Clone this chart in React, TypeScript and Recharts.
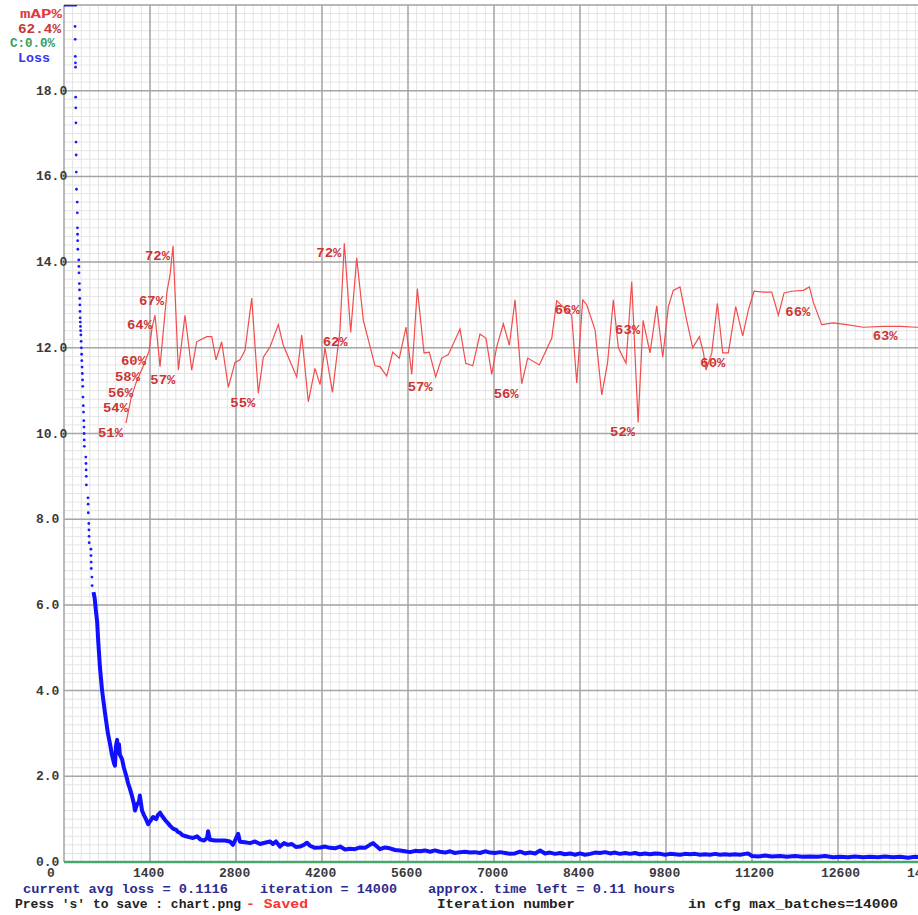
import React from 'react';
import { ComposedChart, Line, Scatter, XAxis, YAxis, CartesianGrid, ReferenceLine, LabelList } from 'recharts';

const xTicks = [0, 1400, 2800, 4200, 5600, 7000, 8400, 9800, 11200, 12600, 14000];
const yTicks = [0, 2, 4, 6, 8, 10, 12, 14, 16, 18];

// loss above the top of the chart (clipped at 20)
const lossClipIter = [0, 210];
const lossClipVal = [20, 20];

// sparse early loss dots
const lossDotIter = [180, 182, 184, 186, 188, 190, 192, 194, 196, 198, 200, 203, 215, 217, 219, 221, 223, 225, 240, 242, 244, 250, 252, 256, 258, 260, 263, 265, 268, 271, 275, 279, 283, 287, 290, 294, 298, 302, 305, 309, 314, 318, 322, 325, 327, 329, 331, 355, 358, 360, 362, 364, 390, 393, 395, 404, 406, 408, 410, 438, 440, 442, 444, 455, 458];
const lossDotVal = [19.5, 19.2, 18.8, 18.65, 18.55, 17.85, 17.6, 17.25, 16.8, 16.5, 16.1, 15.7, 15.4, 15.15, 14.8, 14.65, 14.5, 14.3, 14.05, 13.9, 13.75, 13.5, 13.35, 13.15, 13.0, 12.85, 12.7, 12.6, 12.5, 12.4, 12.3, 12.15, 12.0, 11.85, 11.7, 11.55, 11.4, 11.25, 11.1, 10.85, 10.65, 10.5, 10.3, 10.15, 10.0, 9.85, 9.7, 9.45, 9.3, 9.15, 9.0, 8.8, 8.5, 8.35, 8.15, 7.9, 7.75, 7.6, 7.45, 7.3, 7.15, 7.0, 6.85, 6.65, 6.45];

// continuous loss line
const lossIter = [480, 500, 520, 540, 555, 585, 620, 665, 715, 750, 780, 815, 830, 845, 865, 880, 895, 910, 945, 975, 995, 1025, 1040, 1075, 1105, 1140, 1155, 1190, 1220, 1235, 1255, 1270, 1300, 1335, 1370, 1400, 1450, 1500, 1530, 1565, 1595, 1645, 1695, 1725, 1775, 1825, 1855, 1890, 1935, 1985, 2035, 2100, 2165, 2215, 2280, 2330, 2345, 2375, 2460, 2540, 2620, 2700, 2750, 2800, 2835, 2865, 2945, 3030, 3110, 3190, 3270, 3355, 3400, 3450, 3515, 3580, 3645, 3710, 3775, 3840, 3905, 3955, 4005, 4085, 4170, 4250, 4330, 4410, 4495, 4575, 4655, 4735, 4820, 4900, 4980, 5030, 5080, 5145, 5225, 5305, 5390, 5470, 5550, 5635, 5715, 5795, 5875, 5960, 6040, 6120, 6205, 6285, 6365, 6445, 6530, 6610, 6690, 6770, 6855, 6935, 7015, 7100, 7180, 7260, 7340, 7425, 7505, 7585, 7670, 7750, 7830, 7910, 7995, 8075, 8155, 8240, 8320, 8400, 8480, 8565, 8645, 8725, 8810, 8890, 8970, 9050, 9135, 9215, 9295, 9375, 9460, 9540, 9620, 9705, 9785, 9865, 9945, 10030, 10110, 10190, 10275, 10355, 10435, 10515, 10600, 10680, 10760, 10840, 10925, 11005, 11085, 11135, 11200, 11300, 11410, 11525, 11655, 11770, 11900, 12015, 12145, 12275, 12390, 12520, 12635, 12765, 12875, 13010, 13120, 13250, 13365, 13495, 13610, 13740, 13855, 14000];
const lossVal = [6.3, 6.15, 5.85, 5.6, 5.2, 4.55, 4.0, 3.5, 3.0, 2.75, 2.5, 2.3, 2.25, 2.7, 2.85, 2.55, 2.75, 2.5, 2.4, 2.2, 2.1, 1.95, 1.85, 1.7, 1.55, 1.35, 1.2, 1.35, 1.4, 1.55, 1.35, 1.2, 1.1, 1.0, 0.88, 0.95, 1.05, 1.0, 1.1, 1.15, 1.08, 0.98, 0.9, 0.85, 0.78, 0.75, 0.7, 0.68, 0.62, 0.6, 0.58, 0.56, 0.6, 0.53, 0.5, 0.56, 0.72, 0.52, 0.5, 0.5, 0.5, 0.48, 0.4, 0.55, 0.66, 0.47, 0.46, 0.44, 0.48, 0.42, 0.45, 0.48, 0.42, 0.48, 0.36, 0.44, 0.4, 0.42, 0.35, 0.36, 0.4, 0.45, 0.38, 0.33, 0.34, 0.36, 0.33, 0.32, 0.36, 0.29, 0.31, 0.3, 0.34, 0.33, 0.4, 0.44, 0.38, 0.3, 0.34, 0.32, 0.28, 0.27, 0.25, 0.23, 0.26, 0.25, 0.27, 0.24, 0.27, 0.24, 0.22, 0.25, 0.21, 0.23, 0.24, 0.22, 0.23, 0.21, 0.25, 0.22, 0.21, 0.23, 0.21, 0.19, 0.2, 0.24, 0.2, 0.22, 0.2, 0.27, 0.2, 0.22, 0.19, 0.21, 0.18, 0.2, 0.17, 0.2, 0.17, 0.19, 0.22, 0.21, 0.23, 0.2, 0.22, 0.19, 0.21, 0.19, 0.21, 0.18, 0.2, 0.18, 0.2, 0.19, 0.17, 0.19, 0.18, 0.17, 0.19, 0.18, 0.19, 0.17, 0.18, 0.17, 0.19, 0.17, 0.18, 0.17, 0.18, 0.17, 0.19, 0.2, 0.14, 0.13, 0.15, 0.13, 0.14, 0.12, 0.14, 0.12, 0.13, 0.12, 0.14, 0.11, 0.12, 0.11, 0.13, 0.11, 0.12, 0.11, 0.13, 0.11, 0.12, 0.1, 0.12, 0.11];

// mAP (%) line
const mapIter = [1009, 1091, 1172, 1286, 1384, 1433, 1481, 1563, 1677, 1726, 1775, 1861, 1970, 2079, 2160, 2323, 2405, 2475, 2567, 2675, 2784, 2865, 2947, 3056, 3163, 3245, 3354, 3489, 3570, 3788, 3870, 3977, 4086, 4168, 4249, 4371, 4493, 4563, 4667, 4765, 4873, 5063, 5144, 5254, 5351, 5459, 5568, 5661, 5752, 5861, 5947, 6051, 6149, 6256, 6447, 6540, 6654, 6772, 6870, 6963, 7044, 7152, 7250, 7342, 7451, 7549, 7738, 7940, 8021, 8265, 8347, 8445, 8510, 8645, 8754, 8848, 8943, 9024, 9149, 9242, 9346, 9427, 9540, 9649, 9747, 9838, 9919, 10028, 10137, 10235, 10343, 10408, 10452, 10545, 10636, 10724, 10815, 10935, 11049, 11140, 11233, 11385, 11521, 11629, 11722, 11847, 12036, 12134, 12199, 12335, 12524, 12742, 13012, 13338, 13620, 13881, 14000];
const mapVal = [51.2, 54.1, 55.9, 57.8, 59.6, 62.3, 63.8, 57.8, 66.6, 68.5, 71.9, 57.4, 63.8, 57.4, 60.7, 61.3, 61.3, 58.6, 60.7, 55.4, 58.3, 58.6, 59.7, 65.8, 54.7, 58.9, 60.1, 62.7, 60.3, 56.6, 61.5, 53.7, 57.6, 55.7, 60.0, 54.8, 62.1, 72.2, 61.8, 70.5, 63.2, 57.9, 57.8, 56.7, 59.5, 58.8, 62.4, 56.9, 66.9, 59.4, 59.5, 56.6, 58.8, 59.2, 62.2, 58.2, 57.9, 61.6, 61.1, 56.9, 60.1, 62.8, 60.3, 65.6, 55.8, 58.8, 58.0, 61.1, 65.5, 63.8, 55.9, 65.6, 65.0, 62.1, 54.5, 58.2, 65.6, 60.0, 58.2, 67.7, 51.3, 63.2, 59.4, 64.9, 58.9, 64.8, 66.7, 67.1, 63.2, 60.0, 61.3, 59.5, 57.4, 59.4, 65.2, 59.4, 59.4, 64.8, 61.4, 64.4, 66.6, 66.5, 66.5, 63.8, 66.4, 66.6, 66.7, 67.1, 65.3, 62.7, 62.9, 62.7, 62.4, 62.5, 62.5, 62.4, 62.4];

const mapLabelIter = [1009, 1091, 1172, 1286, 1384, 1481, 1677, 1775, 1861, 3163, 4563, 4667, 6051, 7451, 8445, 9346, 9427, 10815, 12199, 13620];
const mapLabelText = ['51%', '54%', '56%', '58%', '60%', '64%', '67%', '72%', '57%', '55%', '72%', '62%', '57%', '56%', '66%', '52%', '63%', '60%', '66%', '63%'];

const lossClipData = lossClipIter.map((iter, i) => ({ iter, loss: lossClipVal[i] }));
const lossDotData = lossDotIter.map((iter, i) => ({ iter, loss: lossDotVal[i] }));
const lossData = lossIter.map((iter, i) => ({ iter, loss: lossVal[i] }));
const mapData = mapIter.map((iter, i) => {
  const li = mapLabelIter.indexOf(iter);
  return { iter, map: mapVal[i], label: li >= 0 ? mapLabelText[li] : '' };
});

const minorX = Array.from({ length: 101 }, (_, i) => i * 140);
const minorY = Array.from({ length: 101 }, (_, i) => Math.round(i * 2) / 10);
const majorX = xTicks;
const majorY = [0, 2, 4, 6, 8, 10, 12, 14, 16, 18, 20];

const MONO = '"Liberation Mono", "DejaVu Sans Mono", monospace';

const XTick = (props: any) => {
  const { x, y, payload } = props;
  return (
    <text x={x - 17} y={y + 15} fontFamily={MONO} fontSize={13} fontWeight="bold" fill="#3a3a3a">
      {payload.value}
    </text>
  );
};

const YTick = (props: any) => {
  const { x, y, payload } = props;
  return (
    <text x={x - 28} y={y + 4} fontFamily={MONO} fontSize={13} fontWeight="bold" fill="#3a3a3a">
      {Number(payload.value).toFixed(1)}
    </text>
  );
};

const MapLabel = (props: any) => {
  const { x, y, value } = props;
  if (!value) return null;
  return (
    <text x={x - 28} y={y + 14} fontFamily={MONO} fontSize={12} fontWeight="bold" fill="#cc3434" textLength={25} lengthAdjust="spacingAndGlyphs">
      {value}
    </text>
  );
};

const DotShape = (props: any) => <circle cx={props.cx} cy={props.cy} r={1.4} fill="#1a1aff" />;

export default function App() {
  return (
    <div style={{ position: 'fixed', left: 0, top: 0, width: 918, height: 915, overflow: 'hidden', background: '#fff' }}>
      <ComposedChart width={960} height={915} margin={{ top: 5, right: 36, bottom: 33, left: 0 }}>
        <CartesianGrid stroke="#e4e4e4" strokeWidth={1} verticalValues={minorX} horizontalValues={minorY} />
        <CartesianGrid stroke="#a6a6a6" strokeWidth={1.5} verticalValues={majorX} horizontalValues={majorY} />
        <XAxis
          type="number"
          dataKey="iter"
          domain={[0, 14000]}
          ticks={xTicks}
          allowDataOverflow
          height={20}
          tickSize={0}
          tickMargin={0}
          tickLine={false}
          axisLine={false}
          tick={<XTick />}
          interval={0}
        />
        <YAxis
          type="number"
          domain={[0, 20]}
          ticks={yTicks}
          allowDataOverflow
          width={64}
          tickSize={0}
          tickMargin={0}
          tickLine={false}
          axisLine={false}
          tick={<YTick />}
          interval={0}
        />
        <YAxis yAxisId="map" type="number" domain={[0, 100]} hide allowDataOverflow />
        <ReferenceLine y={0} stroke="#4aa56c" strokeWidth={2.5} />
        <Line data={lossClipData} dataKey="loss" type="linear" stroke="#1a1aff" strokeWidth={3} dot={false} activeDot={false} isAnimationActive={false} />
        <Scatter data={lossDotData} dataKey="loss" shape={<DotShape />} isAnimationActive={false} />
        <Line data={lossData} dataKey="loss" type="linear" stroke="#1010ff" strokeWidth={4} strokeLinejoin="round" dot={false} activeDot={false} isAnimationActive={false} />
        <Line yAxisId="map" data={mapData} dataKey="map" type="linear" stroke="#f24c4c" strokeWidth={1.2} dot={false} activeDot={false} isAnimationActive={false}>
          <LabelList dataKey="label" content={<MapLabel />} />
        </Line>
      </ComposedChart>
      <svg width={918} height={915} style={{ position: 'absolute', left: 0, top: 0, pointerEvents: 'none' }}>
        <g fontFamily={MONO} fontWeight="bold">
          <text x={20} y={18} fontSize={12} fill="#e23a3a" textLength={42} lengthAdjust="spacingAndGlyphs">mAP%</text>
          <text x={18} y={33} fontSize={12} fill="#c43838" textLength={43} lengthAdjust="spacingAndGlyphs">62.4%</text>
          <text x={10} y={47} fontSize={12} fill="#3a9c5c" textLength={45} lengthAdjust="spacingAndGlyphs">C:0.0%</text>
          <text x={18} y={62} fontSize={12} fill="#3535f0" textLength={32} lengthAdjust="spacingAndGlyphs">Loss</text>

          <text x={23} y={893} fontSize={13} fill="#2c2c8e" textLength={205} lengthAdjust="spacingAndGlyphs">current avg loss = 0.1116</text>
          <text x={260} y={893} fontSize={13} fill="#2c2c8e" textLength={137} lengthAdjust="spacingAndGlyphs">iteration = 14000</text>
          <text x={428} y={893} fontSize={13} fill="#2c2c8e" textLength={247} lengthAdjust="spacingAndGlyphs">approx. time left = 0.11 hours</text>

          <text x={15} y={908} fontSize={13} fill="#222" textLength={226} lengthAdjust="spacingAndGlyphs">Press 's' to save : chart.png</text>
          <text x={246} y={908} fontSize={13} fill="#ff3030" textLength={62} lengthAdjust="spacingAndGlyphs">- Saved</text>
          <text x={437} y={908} fontSize={13} fill="#222" textLength={138} lengthAdjust="spacingAndGlyphs">Iteration number</text>
          <text x={688} y={908} fontSize={13} fill="#222" textLength={210} lengthAdjust="spacingAndGlyphs">in cfg max_batches=14000</text>
        </g>
      </svg>
    </div>
  );
}
